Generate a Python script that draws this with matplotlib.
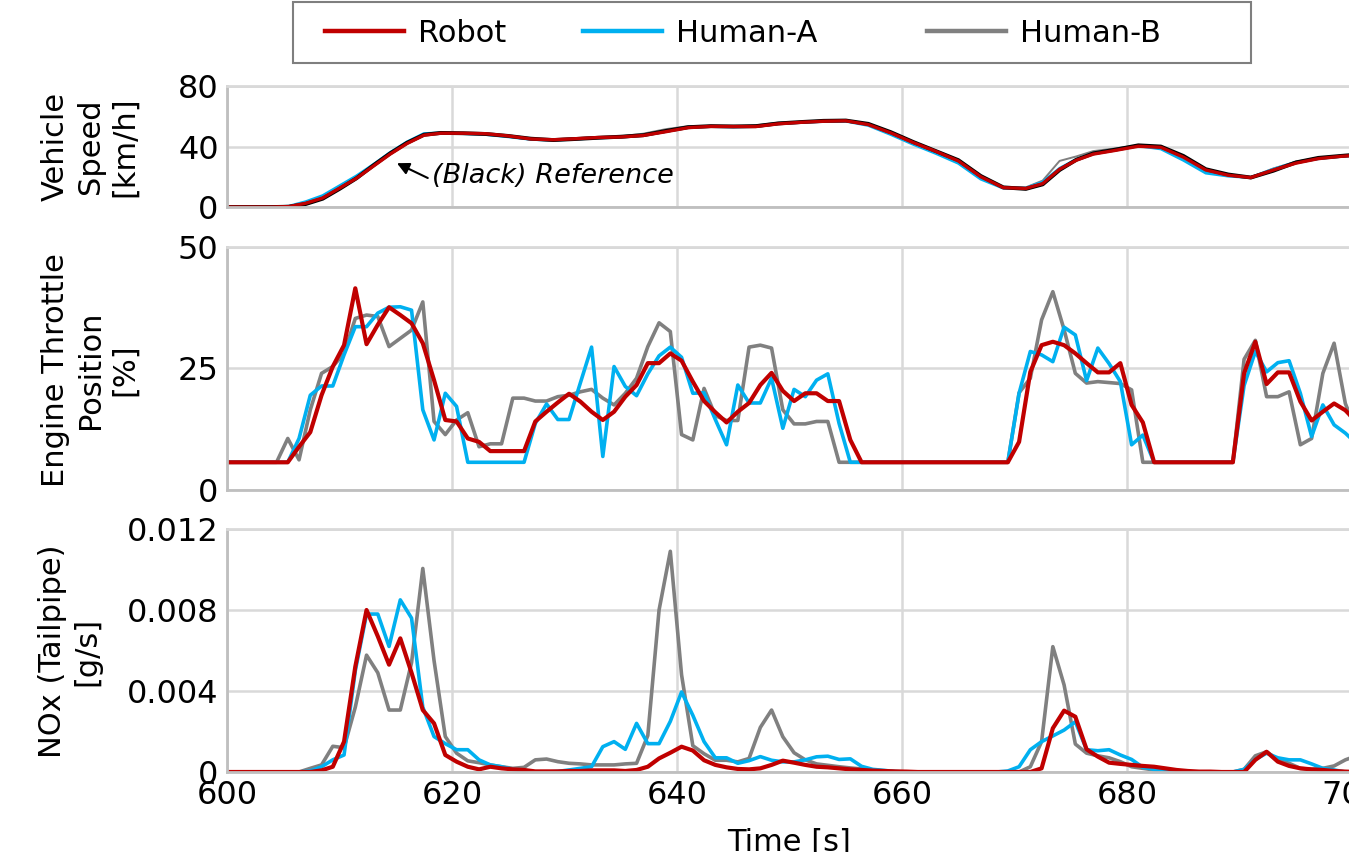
import numpy as np
import matplotlib.pyplot as plt
from matplotlib.lines import Line2D
from matplotlib.patches import Rectangle

# 1 s samples used for throttle / NOx
t = np.arange(599.4, 700.5, 1.0)

# vehicle speed [km/h] (smooth, own time base)
speed_t = [600, 604, 605.5, 607, 608.5, 610, 611.5, 613, 614.5, 616, 617.5, 619, 621, 623,
           625, 627, 629, 631, 633, 635, 637, 639, 641, 643, 645, 647, 649, 651, 653, 655,
           657, 659, 661, 663, 665, 667, 669, 671, 672.5, 674, 675.5, 677, 679, 681, 683,
           685, 687, 689, 691, 693, 695, 697, 699, 701]
speed_robot = [0, 0, 0.3, 2.5, 6, 12.5, 19, 27, 35, 42, 47.5, 48.8, 48.8, 48.5,
               47, 45, 44.5, 45.2, 46, 46.3, 47.3, 49.8, 52.5, 53.3, 53.2, 53.2, 55, 56, 56.7, 57,
               54.5, 49, 42.6, 36.8, 30.5, 20, 12.8, 12.3, 15.5, 25, 31, 35, 37.5, 40.2, 39.5,
               33, 24.5, 21, 19.5, 24.5, 29, 32, 33.5, 34.5]
speed_ref = [0, 0, 0.2, 2.0, 5.5, 12, 19, 27.5, 35.5, 42.5, 47.8, 49, 48.8, 48.3,
             47, 45.2, 44.3, 45, 45.8, 46.5, 47.5, 50.3, 52.8, 53.5, 53.3, 53.5, 55.3, 56.2, 57, 57.2,
             55, 49.5, 43, 37, 31, 20.5, 13, 12, 15, 24.5, 31.3, 35.5, 38, 40.8, 40,
             33.8, 25, 21.5, 19.5, 24, 29.5, 32.5, 33.8, 35]
speed_a = [0, 0, 0.5, 3.5, 7.5, 14, 20.5, 28, 36, 43, 48.5, 49, 48.6, 48,
           46.5, 44.8, 44.2, 45, 45.8, 46.2, 47.5, 50, 52.8, 53.3, 53, 53.3, 55.2, 56, 56.6, 56.8,
           54, 48, 41.5, 35.5, 29, 18.5, 12.5, 12.5, 16.5, 25.5, 31.5, 35.5, 38, 40.5, 38.5,
           31, 22.5, 20.5, 19.5, 25, 29.5, 32, 33.5, 34.5]
speed_b = [0, 0, 0.5, 3, 7, 13, 20, 28, 36, 42.5, 48, 49.2, 48.8, 48.3,
           46.8, 45, 44.8, 45.5, 46.3, 46.8, 48.5, 51.5, 53.5, 53.6, 53.4, 54, 55.8, 56.3, 57, 57,
           54.8, 49, 43, 37, 30.5, 20, 13, 13, 17.5, 30.5, 33.5, 37, 38.8, 40.8, 40,
           33, 24.5, 21, 19.8, 25.5, 30, 32.5, 34, 35]

# engine throttle position [%]
thr_robot = [5.7, 5.7, 5.7, 5.7, 5.7, 5.7, 5.7,
             8.9, 11.9, 19.5, 25.4, 29.8, 41.5, 30.0, 34.0, 37.6, 36.0,
             34.3, 30.2, 22.6, 14.4, 14.1, 10.6, 9.9, 8.0, 8.0, 8.0,
             8.0, 14.1, 16.1, 18.0, 19.8, 18.2, 16.1, 14.4, 16.1, 19.2,
             21.6, 26.1, 26.1, 28.1, 26.6, 22.3, 18.3, 16.0, 13.9, 16.1,
             17.9, 21.6, 24.1, 20.4, 18.3, 19.9, 19.9, 18.3, 18.3, 10.3,
             5.7, 5.7, 5.7, 5.7, 5.7, 5.7, 5.7, 5.7, 5.7, 5.7,
             5.7, 5.7, 5.7, 5.7, 9.9, 24.3, 29.8, 30.5, 29.8, 28.1,
             26.1, 24.2, 24.2, 26.1, 17.5, 13.9, 5.7, 5.7, 5.7, 5.7,
             5.7, 5.7, 5.7, 5.7, 24.0, 30.5, 21.8, 24.2, 24.2, 18.2,
             14.3, 16.1, 17.8, 16.4, 14.0]
thr_a = [5.7, 5.7, 5.7, 5.7, 5.7, 5.7, 5.7,
         10.6, 19.5, 21.4, 21.4, 27.8, 33.6, 33.6, 36.4, 37.6, 37.7,
         37.0, 16.5, 10.3, 19.9, 17.2, 5.7, 5.7, 5.7, 5.7, 5.7,
         5.7, 13.7, 17.7, 14.5, 14.5, 22.0, 29.4, 6.9, 25.4, 21.3,
         19.4, 23.9, 27.6, 29.4, 27.3, 19.9, 20.0, 14.5, 9.3, 21.6,
         17.9, 17.9, 23.0, 12.7, 20.7, 19.2, 22.6, 23.9, 13.7, 5.7,
         5.7, 5.7, 5.7, 5.7, 5.7, 5.7, 5.7, 5.7, 5.7, 5.7,
         5.7, 5.7, 5.7, 5.7, 19.9, 28.5, 27.8, 26.4, 33.5, 31.9,
         22.5, 29.2, 26.0, 22.3, 9.3, 11.3, 5.7, 5.7, 5.7, 5.7,
         5.7, 5.7, 5.7, 5.7, 21.5, 28.5, 24.3, 26.2, 26.6, 19.9,
         11.0, 17.5, 13.4, 11.7, 9.5]
thr_b = [5.7, 5.7, 5.7, 5.7, 5.7, 5.7, 10.6,
         6.2, 16.5, 24.0, 25.4, 28.1, 35.3, 36.0, 35.7, 29.5, 31.2,
         32.9, 38.7, 14.1, 11.4, 14.4, 15.9, 8.9, 9.5, 9.5, 18.9,
         18.9, 18.3, 18.3, 19.2, 19.5, 20.2, 20.7, 18.9, 17.5, 19.9,
         23.0, 29.5, 34.4, 32.6, 11.4, 10.3, 20.9, 15.3, 14.3, 14.3,
         29.4, 29.8, 29.2, 16.5, 13.6, 13.6, 14.1, 14.1, 5.7, 5.7,
         5.7, 5.7, 5.7, 5.7, 5.7, 5.7, 5.7, 5.7, 5.7, 5.7,
         5.7, 5.7, 5.7, 5.7, 20.0, 23.0, 35.0, 40.8, 33.0, 24.0,
         22.0, 22.3, 22.1, 21.9, 20.6, 5.7, 5.7, 5.7, 5.7, 5.7,
         5.7, 5.7, 5.7, 5.7, 26.9, 30.8, 19.2, 19.2, 20.2, 9.3,
         10.6, 24.0, 30.2, 17.8, 12.0]

# tailpipe NOx [mg/s], converted to g/s below
nox_robot = [0, 0, 0, 0, 0, 0, 0, 0, 0, 0.08, 0.26, 1.5,
             5.2, 8.0, 6.7, 5.3, 6.6, 4.9, 3.06, 2.4, 0.84, 0.51,
             0.26, 0.13, 0.26, 0.18, 0.13, 0.1, 0.03, 0.03, 0.03, 0.05,
             0.05, 0.08, 0.08, 0.08, 0.05, 0.1, 0.26, 0.67, 0.95, 1.25,
             1.06, 0.58, 0.35, 0.23, 0.15, 0.13, 0.18, 0.35, 0.56, 0.46,
             0.35, 0.26, 0.23, 0.18, 0.13, 0.1, 0.07, 0.05, 0.03, 0.02,
             0, 0, 0, 0, 0, 0, 0, 0, 0, 0, 0,
             0.18, 2.16, 3.03, 2.73, 1.12, 0.76, 0.46, 0.4, 0.35,
             0.3, 0.26, 0.18, 0.1, 0.05, 0.02, 0.02, 0, 0, 0,
             0.6, 1.0, 0.51, 0.3, 0.18, 0.13, 0.1, 0.05, 0.02, 0]
nox_a = [0, 0, 0, 0, 0, 0, 0, 0, 0.05, 0.26, 0.6, 0.84,
         5.0, 7.8, 7.8, 6.2, 8.5, 7.6, 3.2, 1.75, 1.4, 1.1,
         1.1, 0.6, 0.35, 0.26, 0.13, 0.05, 0, 0, 0.03, 0.1,
         0.18, 0.26, 1.25, 1.5, 1.12, 2.4, 1.4, 1.4, 2.5, 3.95,
         2.8, 1.5, 0.7, 0.7, 0.43, 0.56, 0.76, 0.58, 0.5, 0.5,
         0.6, 0.75, 0.78, 0.62, 0.65, 0.28, 0.13, 0.08, 0.02, 0,
         0, 0, 0, 0, 0, 0, 0, 0, 0.05, 0.26,
         1.1, 1.5, 1.78, 2.07, 2.48, 1.1, 1.05, 1.1, 0.84, 0.62,
         0.23, 0.13, 0.1, 0, 0, 0, 0, 0, 0, 0.13,
         0.62, 0.93, 0.7, 0.6, 0.6, 0.4, 0.18, 0.1, 0, 0]
nox_b = [0, 0, 0, 0, 0, 0, 0, 0, 0.18, 0.35, 1.27, 1.2,
         3.2, 5.77, 4.9, 3.06, 3.06, 5.4, 10.05, 5.5, 1.75, 0.93,
         0.55, 0.46, 0.35, 0.26, 0.18, 0.23, 0.6, 0.64, 0.51, 0.43,
         0.4, 0.35, 0.35, 0.35, 0.4, 0.43, 1.8, 8.0, 10.9, 4.8,
         1.3, 0.9, 0.58, 0.58, 0.5, 0.67, 2.2, 3.06, 1.74, 0.95,
         0.6, 0.4, 0.33, 0.26, 0.2, 0.15, 0.1, 0.05, 0.02, 0,
         0, 0, 0, 0, 0, 0, 0, 0, 0, 0,
         0.26, 1.5, 6.19, 4.3, 1.38, 0.93, 0.8, 0.7, 0.51, 0.26,
         0.18, 0.1, 0.05, 0, 0, 0, 0, 0, 0, 0.13,
         0.8, 1.0, 0.6, 0.43, 0.18, 0.13, 0.18, 0.3, 0.6, 0.8]

x_ticks = [600, 620, 640, 660, 680, 700]
speed_ticks = [0, 40, 80]
thr_ticks = [0, 25, 50]
nox_ticks = [0, 0.004, 0.008, 0.012]
nox_ticklabels = ['0', '0.004', '0.008', '0.012']

RED, CYAN, GREY = '#C00000', '#00B0F0', '#808080'
FS = 22

fig = plt.figure(figsize=(13.49, 8.52), dpi=100)
ax1 = fig.add_axes([0.1683, 0.757, 0.834, 0.142])
ax2 = fig.add_axes([0.1683, 0.4249, 0.834, 0.2852])
ax3 = fig.add_axes([0.1683, 0.0939, 0.834, 0.2852])

# speed
ax1.plot(speed_t, speed_b, color=GREY, lw=1.4)
ax1.plot(speed_t, speed_a, color=CYAN, lw=2.2)
ax1.plot(speed_t, speed_ref, color='black', lw=2.8)
ax1.plot(speed_t, speed_robot, color=RED, lw=2.4)
ax1.set_ylim(0, 80)
ax1.set_yticks(speed_ticks)
ax1.annotate('(Black) Reference', xy=(615.1, 29), xytext=(618.2, 20.5),
             fontsize=19.5, style='italic', ha='left', va='center',
             arrowprops=dict(arrowstyle='-|>', color='black', lw=1.5,
                             mutation_scale=18, relpos=(0, 0.35),
                             shrinkA=1, shrinkB=0))

# throttle
ax2.plot(t, thr_b, color=GREY, lw=2.6)
ax2.plot(t, thr_a, color=CYAN, lw=2.6)
ax2.plot(t, thr_robot, color=RED, lw=3.0)
ax2.set_ylim(0, 50)
ax2.set_yticks(thr_ticks)

# NOx
ax3.plot(t, np.array(nox_b) / 1000, color=GREY, lw=2.6)
ax3.plot(t, np.array(nox_a) / 1000, color=CYAN, lw=2.6)
ax3.plot(t, np.array(nox_robot) / 1000, color=RED, lw=3.0)
ax3.set_ylim(0, 0.012)
ax3.set_yticks(nox_ticks)
ax3.set_yticklabels(nox_ticklabels)

for ax in (ax1, ax2, ax3):
    ax.set_xlim(600, 700)
    ax.set_xticks(x_ticks)
    ax.grid(True, color='#d9d9d9', lw=1.8)
    ax.set_axisbelow(True)
    ax.tick_params(length=0, labelsize=23, pad=6)
    for s in ax.spines.values():
        s.set_color('#bfbfbf')
        s.set_linewidth(2)
    ax.spines['top'].set_color('#d9d9d9')
for ax in (ax1, ax2):
    ax.tick_params(labelbottom=False)

fig.text(90 / 1349, 0.828, 'Vehicle\nSpeed\n[km/h]', rotation=90, ha='center', va='center',
         fontsize=FS, linespacing=1.25)
fig.text(90 / 1349, 0.5657, 'Engine Throttle\nPosition\n[%]', rotation=90, ha='center',
         va='center', fontsize=FS, linespacing=1.25)
fig.text(70 / 1349, 0.2359, 'NOx (Tailpipe)\n[g/s]', rotation=90, ha='center', va='center',
         fontsize=FS, linespacing=1.25)
fig.text(0.585, 1 - 828 / 852, 'Time [s]', ha='center', va='top', fontsize=FS)

# legend: one framed box, entries at fixed positions
fig.add_artist(Rectangle((0.2172, 0.926), 0.7101, 0.0716, transform=fig.transFigure,
                         fill=False, edgecolor='#7f7f7f', lw=1.5))
for name, col, xpos in [('Robot', RED, 325), ('Human-A', CYAN, 583), ('Human-B', GREY, 927)]:
    fig.legend(handles=[Line2D([], [], color=col, lw=3.2)], labels=[name], loc='center left',
               bbox_to_anchor=(xpos / 1349, 1 - 33 / 852), frameon=False, borderpad=0,
               borderaxespad=0, handlelength=2.6, handletextpad=0.45, fontsize=22)

fig.savefig('out.png', dpi=100)
